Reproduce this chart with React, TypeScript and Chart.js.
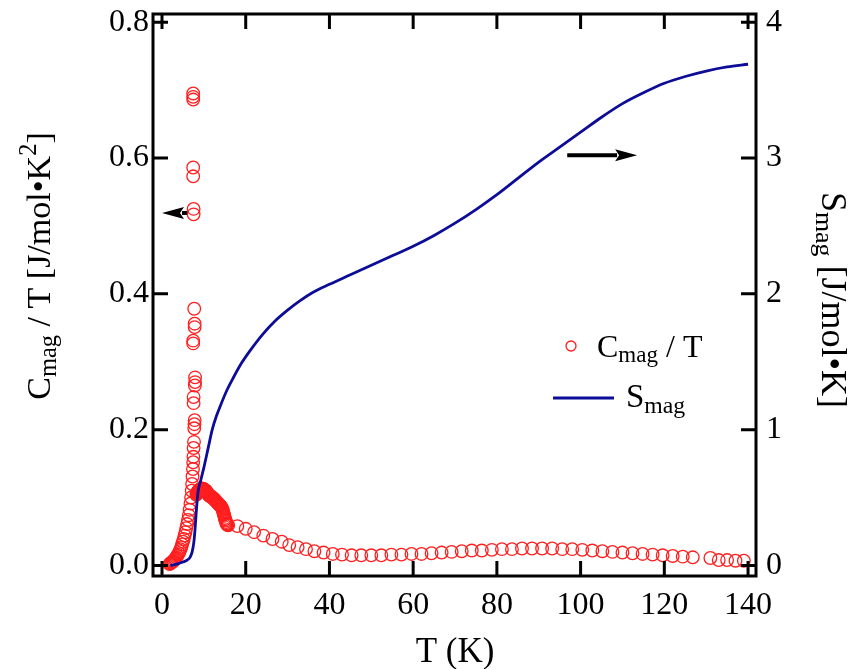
import { useEffect, useRef } from "react";
import { Chart, registerables } from "chart.js";

Chart.register(...registerables);

// ---- data ----
const cmagTemps = [
  1.8, 2.0, 2.2, 2.4, 2.6, 2.8, 3.0, 3.2, 3.4, 3.6, 3.8, 4.0, 4.2, 4.4, 4.6, 4.8, 5.0, 5.2, 5.4, 5.6,
  5.8, 6.0, 6.2, 6.4, 6.6, 6.8, 6.95, 7.1, 7.2, 7.3, 7.4,
  7.45, 7.5, 7.55, 7.65, 7.7, 7.75, 7.8, 7.55, 7.55, 7.85, 7.9, 7.9, 7.45, 7.45, 7.8, 7.8, 7.7,
  7.55, 7.55, 7.45, 7.45, 7.45, 7.45, 7.45,
  8.2, 8.3, 8.4, 8.5, 8.6, 8.7, 8.8, 8.9, 9.0, 9.1, 9.2, 9.3, 9.4, 9.5, 9.6, 9.7, 9.8, 9.9, 10.0,
  10.1, 10.2, 10.3, 10.4, 10.5, 10.6, 10.7, 10.8, 10.9, 11.0, 11.1, 11.2, 11.3, 11.4, 11.5, 11.65,
  11.8, 11.95, 12.1, 12.25, 12.4, 12.55, 12.7, 12.85, 13.0, 13.15, 13.3, 13.45, 13.6, 13.75, 13.9,
  14.05, 14.2, 14.35, 14.5, 14.6, 14.7, 14.8, 14.9, 15.0, 15.1, 15.2, 15.3, 15.4, 15.5, 15.65, 15.8,
  18.0, 20.0, 22.0, 24.2, 26.4, 28.6, 30.4, 32.4, 34.4, 36.4, 38.6, 40.8, 43.0, 45.3, 47.6, 50.0,
  52.4, 54.8, 57.2, 59.6, 62.0, 64.4, 66.8, 69.2, 71.6, 74.0, 76.4, 78.8, 81.2, 83.6, 86.0, 88.4,
  90.8, 93.2, 95.6, 98.0, 100.4, 102.8, 105.2, 107.6, 110.0, 112.4, 114.8, 117.2, 119.6, 122.0,
  124.4, 126.8, 131.0, 133.0, 135.0, 137.0, 139.0,
];
const cmagOverT = [
  0.002, 0.003, 0.004, 0.005, 0.006, 0.007, 0.009, 0.010, 0.012, 0.014, 0.016, 0.018, 0.021, 0.024,
  0.027, 0.031, 0.035, 0.039, 0.044, 0.049, 0.055, 0.061, 0.067, 0.074, 0.082, 0.091, 0.100, 0.110,
  0.120, 0.131, 0.142,
  0.152, 0.160, 0.173, 0.182, 0.202, 0.208, 0.214, 0.239, 0.248, 0.265, 0.270, 0.277, 0.327, 0.331,
  0.351, 0.356, 0.378, 0.517, 0.525, 0.573, 0.586, 0.686, 0.690, 0.695,
  0.104, 0.106, 0.107, 0.108, 0.109, 0.110, 0.111, 0.111, 0.112, 0.112, 0.112, 0.112, 0.113, 0.113,
  0.113, 0.113, 0.113, 0.112, 0.112, 0.112, 0.111, 0.111, 0.110, 0.110, 0.109, 0.108, 0.107, 0.106,
  0.105, 0.104, 0.104, 0.103, 0.103, 0.102, 0.101, 0.101, 0.100, 0.100, 0.099, 0.098, 0.097, 0.096,
  0.095, 0.094, 0.093, 0.092, 0.091, 0.090, 0.089, 0.088, 0.087, 0.086, 0.084, 0.082, 0.080, 0.077,
  0.075, 0.073, 0.070, 0.068, 0.066, 0.064, 0.062, 0.061, 0.060, 0.059, 0.058,
  0.054, 0.049, 0.044, 0.039, 0.035, 0.030, 0.027, 0.024, 0.021, 0.019, 0.017, 0.016, 0.015, 0.015,
  0.015, 0.015, 0.016, 0.016, 0.017, 0.017, 0.018, 0.019, 0.020, 0.021, 0.022, 0.022, 0.023, 0.024,
  0.024, 0.025, 0.025, 0.025, 0.025, 0.024, 0.024, 0.023, 0.022, 0.021, 0.020, 0.019, 0.018, 0.017,
  0.016, 0.015, 0.014, 0.013, 0.012, 0.011, 0.008, 0.008, 0.007, 0.007, 0.006,
];

const smagTemps = [
  2.0, 3.5, 5.0, 6.0, 6.7, 7.2, 7.6, 7.9, 8.2, 8.6, 9.2, 10.0, 11.0, 12.0, 13.0, 14.0, 15.5, 17.0,
  19.0, 21.0, 24.0, 27.0, 30.0, 33.0, 36.0, 40.0, 45.0, 50.0, 55.0, 60.0, 65.0, 70.0, 75.0, 80.0,
  85.0, 90.0, 95.0, 100.0, 105.0, 110.0, 115.0, 120.0, 125.0, 130.0, 135.0, 140.0,
];
const smagValues = [
  0.0, 0.01, 0.025, 0.04, 0.06, 0.1, 0.17, 0.27, 0.4, 0.54, 0.62, 0.72, 0.86, 1.0, 1.1, 1.18, 1.29,
  1.38, 1.49, 1.58, 1.7, 1.8, 1.88, 1.95, 2.01, 2.07, 2.14, 2.21, 2.28, 2.35, 2.43, 2.52, 2.62, 2.73,
  2.85, 2.97, 3.08, 3.19, 3.3, 3.4, 3.48, 3.55, 3.6, 3.64, 3.67, 3.69,
];

const xTickValues = [0, 20, 40, 60, 80, 100, 120, 140];
const leftTickValues = [0, 0.2, 0.4, 0.6, 0.8];
const rightTickValues = [0, 1, 2, 3, 4];

// arrow annotations, in data units
const leftArrow = { from: 6.0, to: 0.0, value: 0.519 };
const rightArrow = { from: 96.8, to: 113.5, value: 3.02 };

const FONT = "'Liberation Serif', 'Times New Roman', serif";
const RED = "rgb(255,30,30)";
const BLUE = "#0c0c98";

type Seg = { t: string; k?: "sub" | "sup" };

function segFont(size: number, k?: string) {
  return `${k ? size * 0.72 : size}px ${FONT}`;
}
function richWidth(ctx: CanvasRenderingContext2D, segs: Seg[], size: number) {
  let w = 0;
  for (const s of segs) {
    ctx.font = segFont(size, s.k);
    w += ctx.measureText(s.t).width;
  }
  return w;
}
function drawRich(
  ctx: CanvasRenderingContext2D,
  segs: Seg[],
  size: number,
  x: number,
  y: number,
  angle: number,
  align: "left" | "center"
) {
  ctx.save();
  ctx.translate(x, y);
  ctx.rotate(angle);
  ctx.fillStyle = "#000";
  ctx.textAlign = "left";
  ctx.textBaseline = "alphabetic";
  const w = richWidth(ctx, segs, size);
  let cx = align === "center" ? -w / 2 : 0;
  for (const s of segs) {
    ctx.font = segFont(size, s.k);
    const dy = s.k === "sub" ? size * 0.17 : s.k === "sup" ? -size * 0.42 : 0;
    ctx.fillText(s.t, cx, dy);
    cx += ctx.measureText(s.t).width;
  }
  ctx.restore();
}

function drawArrow(ctx: CanvasRenderingContext2D, x1: number, x2: number, y: number) {
  const dir = Math.sign(x2 - x1);
  const headLen = 22;
  const half = 6;
  ctx.save();
  ctx.strokeStyle = "#000";
  ctx.fillStyle = "#000";
  ctx.lineWidth = 4;
  ctx.beginPath();
  ctx.moveTo(x1, y);
  ctx.lineTo(x2 - dir * (headLen - 2), y);
  ctx.stroke();
  ctx.beginPath();
  ctx.moveTo(x2, y);
  ctx.lineTo(x2 - dir * headLen, y - half);
  ctx.lineTo(x2 - dir * (headLen - 4), y);
  ctx.lineTo(x2 - dir * headLen, y + half);
  ctx.closePath();
  ctx.fill();
  ctx.restore();
}

const decorPlugin = {
  id: "decor",
  afterDraw(chart: any) {
    const ctx: CanvasRenderingContext2D = chart.ctx;
    const a = chart.chartArea;
    const xs = chart.scales.x;
    const yl = chart.scales.y;
    const yr = chart.scales.y2;
    ctx.save();
    // frame
    ctx.strokeStyle = "#000";
    ctx.lineWidth = 3;
    ctx.strokeRect(a.left, a.top, a.right - a.left, a.bottom - a.top);
    // inward ticks
    const tl = 15;
    ctx.lineWidth = 3;
    ctx.beginPath();
    for (const v of xTickValues) {
      const px = xs.getPixelForValue(v);
      ctx.moveTo(px, a.bottom);
      ctx.lineTo(px, a.bottom - tl);
      ctx.moveTo(px, a.top);
      ctx.lineTo(px, a.top + tl);
    }
    for (const v of leftTickValues) {
      const py = yl.getPixelForValue(v);
      ctx.moveTo(a.left, py);
      ctx.lineTo(a.left + tl, py);
    }
    for (const v of rightTickValues) {
      const py = yr.getPixelForValue(v);
      ctx.moveTo(a.right, py);
      ctx.lineTo(a.right - tl, py);
    }
    ctx.stroke();
    ctx.restore();

    // arrows
    drawArrow(
      ctx,
      xs.getPixelForValue(leftArrow.from),
      xs.getPixelForValue(leftArrow.to),
      yl.getPixelForValue(leftArrow.value)
    );
    drawArrow(
      ctx,
      xs.getPixelForValue(rightArrow.from),
      xs.getPixelForValue(rightArrow.to),
      yr.getPixelForValue(rightArrow.value)
    );

    // legend
    ctx.save();
    ctx.strokeStyle = RED;
    ctx.lineWidth = 1.3;
    ctx.beginPath();
    ctx.arc(571, 346, 5, 0, Math.PI * 2);
    ctx.stroke();
    ctx.strokeStyle = BLUE;
    ctx.lineWidth = 3;
    ctx.beginPath();
    ctx.moveTo(553, 398);
    ctx.lineTo(614, 398);
    ctx.stroke();
    ctx.restore();
    drawRich(ctx, [{ t: "C" }, { t: "mag", k: "sub" }, { t: " / T" }], 32, 597, 357, 0, "left");
    drawRich(ctx, [{ t: "S" }, { t: "mag", k: "sub" }], 33, 626, 407, 0, "left");

    // axis titles
    drawRich(ctx, [{ t: "T (K)" }], 35, 455, 662, 0, "center");
    drawRich(
      ctx,
      [{ t: "C" }, { t: "mag", k: "sub" }, { t: " / T [J/mol\u2022K" }, { t: "2", k: "sup" }, { t: "]" }],
      34,
      50,
      266,
      -Math.PI / 2,
      "center"
    );
    drawRich(
      ctx,
      [{ t: "S" }, { t: "mag", k: "sub" }, { t: " [J/mol\u2022K]" }],
      36,
      822,
      300,
      Math.PI / 2,
      "center"
    );
  },
};

const zeroPad = (s: any) => {
  s.paddingTop = 0;
  s.paddingBottom = 0;
  s.paddingLeft = 0;
  s.paddingRight = 0;
};

export default function App() {
  const canvasRef = useRef<HTMLCanvasElement | null>(null);

  useEffect(() => {
    if (!canvasRef.current) return;
    const cmagData = cmagTemps.map((t, i) => ({ x: t, y: cmagOverT[i] }));
    const smagData = smagTemps.map((t, i) => ({ x: t, y: smagValues[i] }));
    const tickFont = { family: FONT, size: 32 };

    const chart = new Chart(canvasRef.current, {
      type: "scatter",
      data: {
        datasets: [
          {
            label: "S_mag",
            data: smagData,
            yAxisID: "y2",
            showLine: true,
            borderColor: BLUE,
            backgroundColor: BLUE,
            borderWidth: 2.8,
            pointRadius: 0,
            cubicInterpolationMode: "monotone",
          } as any,
          {
            label: "C_mag / T",
            data: cmagData,
            yAxisID: "y",
            showLine: false,
            pointStyle: "circle",
            pointRadius: 6.3,
            pointBorderWidth: 1.3,
            pointBorderColor: RED,
            pointBackgroundColor: "rgba(0,0,0,0)",
            borderColor: RED,
            backgroundColor: "rgba(0,0,0,0)",
          } as any,
        ],
      },
      options: {
        animation: false,
        responsive: false,
        maintainAspectRatio: false,
        devicePixelRatio: 1,
        layout: { padding: { top: 14, left: 0, right: 0, bottom: 0 } },
        plugins: { legend: { display: false }, tooltip: { enabled: false }, title: { display: false } },
        scales: {
          x: {
            type: "linear",
            position: "bottom",
            min: -2.15,
            max: 141.9,
            grid: { display: false, drawTicks: false },
            border: { display: false },
            ticks: {
              font: tickFont,
              color: "#000",
              padding: 10,
              maxRotation: 0,
              autoSkip: false,
              callback: (v: any) => String(v),
            },
            afterBuildTicks: (s: any) => {
              s.ticks = xTickValues.map((v) => ({ value: v }));
            },
            afterFit: (s: any) => {
              s.height = 93;
              zeroPad(s);
            },
          },
          y: {
            type: "linear",
            position: "left",
            min: -0.0155,
            max: 0.812,
            grid: { display: false, drawTicks: false },
            border: { display: false },
            ticks: {
              font: tickFont,
              color: "#000",
              padding: 4,
              autoSkip: false,
              callback: (v: any) => Number(v).toFixed(1),
            },
            afterBuildTicks: (s: any) => {
              s.ticks = leftTickValues.map((v) => ({ value: v }));
            },
            afterFit: (s: any) => {
              s.width = 153;
              zeroPad(s);
            },
          },
          y2: {
            type: "linear",
            position: "right",
            min: -0.0775,
            max: 4.06,
            grid: { display: false, drawTicks: false },
            border: { display: false },
            ticks: {
              font: tickFont,
              color: "#000",
              padding: 10,
              autoSkip: false,
              callback: (v: any) => String(Math.round(Number(v))),
            },
            afterBuildTicks: (s: any) => {
              s.ticks = rightTickValues.map((v) => ({ value: v }));
            },
            afterFit: (s: any) => {
              s.width = 98;
              zeroPad(s);
            },
          },
        },
      },
      plugins: [decorPlugin],
    });
    return () => chart.destroy();
  }, []);

  return (
    <div style={{ position: "fixed", left: 0, top: 0, width: 854, height: 669, background: "#fff" }}>
      <canvas ref={canvasRef} width={854} height={669} style={{ display: "block" }} />
    </div>
  );
}
